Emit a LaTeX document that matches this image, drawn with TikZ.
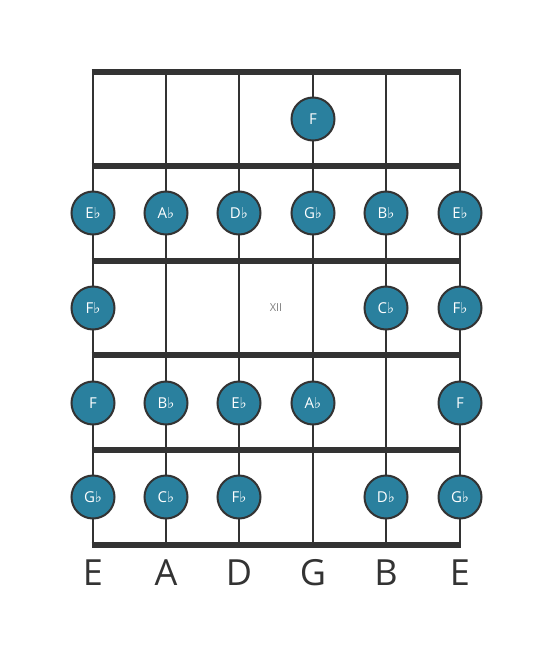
\documentclass[tikz,border=0pt]{standalone}
\usepackage{fontspec}
\setmainfont{Open Sans}
\newfontfamily\symfont{DejaVu Sans}
\definecolor{lineclr}{HTML}{333333}
\definecolor{noteclr}{HTML}{2A809E}
\definecolor{labelclr}{HTML}{333333}
\newcommand{\fl}{{\symfont\fontsize{15pt}{15pt}\selectfont ♭}}
\begin{document}
\begin{tikzpicture}[x=1pt,y=-1pt,
  fretline/.style={draw=lineclr,line width=5.5pt,line cap=butt},
  stringline/.style={draw=lineclr,line width=2.8pt},
  note/.style={circle,draw=lineclr,line width=2pt,fill=noteclr,minimum size=43pt,inner sep=0pt,text=white,font=\fontsize{15pt}{15pt}\selectfont},
  strlabel/.style={text=labelclr,font=\fontsize{36pt}{36pt}\selectfont},
  fretnum/.style={text=gray,font=\fontsize{11pt}{11pt}\selectfont}]
\useasboundingbox (0,0) rectangle (553,656);
\foreach \x [count=\i] in {93,166,239,313,386,460} {
  \coordinate (st\i) at (\x,72);
  \coordinate (sb\i) at (\x,545);
  \draw[stringline] (st\i) -- (sb\i);
}
\foreach \y [count=\j] in {72,166,261,355,450,545} {
  \coordinate (fl\j) at (91.6,\y);
  \coordinate (fr\j) at (461.4,\y);
  \draw[fretline] (fl\j) -- (fr\j);
}
% row 1
\node[note] (n14) at (313,119) {F};
% row 2
\node[note] (n21) at (93,213) {E\fl};
\node[note] (n22) at (166,213) {A\fl};
\node[note] (n23) at (239,213) {D\fl};
\node[note] (n24) at (313,213) {G\fl};
\node[note] (n25) at (386,213) {B\fl};
\node[note] (n26) at (460,213) {E\fl};
% row 3
\node[note] (n31) at (93,308) {F\fl};
\node[fretnum] (xii) at (276,308) {XII};
\node[note] (n35) at (386,308) {C\fl};
\node[note] (n36) at (460,308) {F\fl};
% row 4
\node[note] (n41) at (93,403) {F};
\node[note] (n42) at (166,403) {B\fl};
\node[note] (n43) at (239,403) {E\fl};
\node[note] (n44) at (313,403) {A\fl};
\node[note] (n46) at (460,403) {F};
% row 5
\node[note] (n51) at (93,497) {G\fl};
\node[note] (n52) at (166,497) {C\fl};
\node[note] (n53) at (239,497) {F\fl};
\node[note] (n55) at (386,497) {D\fl};
\node[note] (n56) at (460,497) {G\fl};
% labels
\foreach \x/\t [count=\i] in {93/E,166/A,239/D,313/G,386/B,460/E} {
  \node[strlabel] (lab\i) at (\x,573) {\t};
}
\end{tikzpicture}
\end{document}
